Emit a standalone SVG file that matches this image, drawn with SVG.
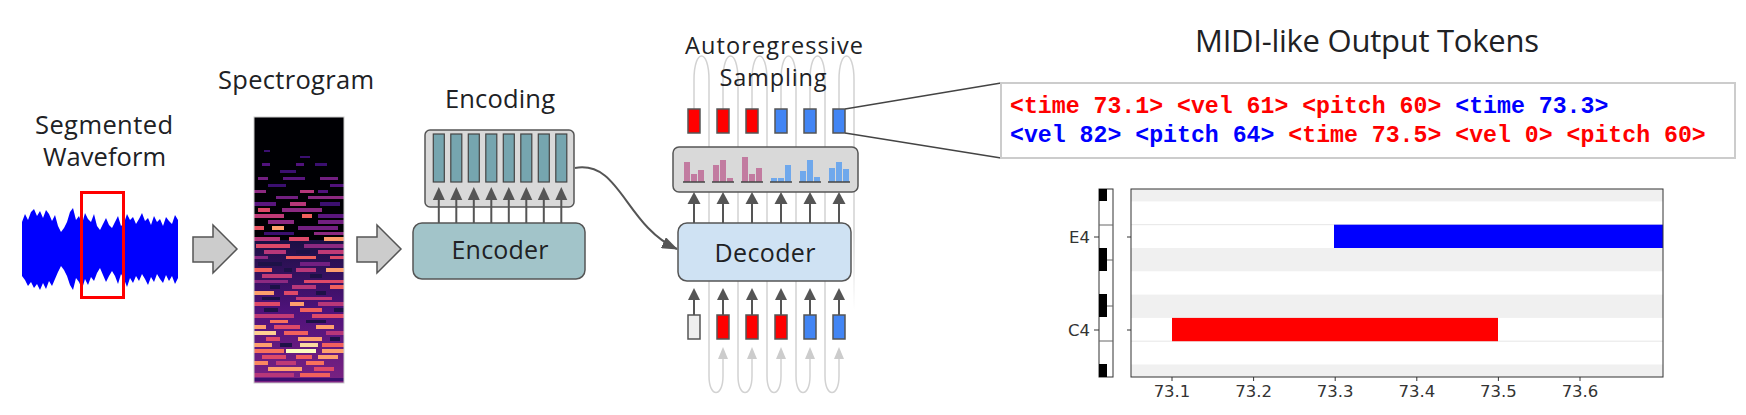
<svg xmlns="http://www.w3.org/2000/svg" width="1746" height="415" viewBox="0 0 1746 415">
<style>
.lbl{font-family:"Open Sans","Noto Sans",sans-serif;fill:#202124;text-anchor:middle}
.tok{stroke:#555;stroke-width:1.5}
.red{fill:#ff0000}
.blu{fill:#4285f4}
.darr{fill:#555;stroke:none}
.dline{stroke:#555;stroke-width:2;fill:none}
.loop{stroke:#d2d2d2;stroke-width:1.5;fill:none}
.garr{fill:#cccccc}
.pk{fill:#c27ba0}
.bl{fill:#6fa8ec}
.base{stroke:#444;stroke-width:1.5}
.mono{font-family:"Liberation Mono","DejaVu Sans Mono",monospace;font-weight:bold;font-size:23.2px}
.tick{font-family:"DejaVu Sans",sans-serif;font-size:16.5px;fill:#333}
.ax{stroke:#333;stroke-width:1}
</style>
<defs>
<marker id="ah" markerUnits="userSpaceOnUse" markerWidth="16" markerHeight="12" viewBox="0 0 16 12" refX="15" refY="6" orient="auto">
<path d="M0,0 L16,6 L0,12 z" fill="#555"/>
</marker>
<linearGradient id="fade" gradientUnits="userSpaceOnUse" x1="0" y1="230" x2="0" y2="310">
<stop offset="0" stop-color="#d2d2d2" stop-opacity="1"/>
<stop offset="1" stop-color="#d2d2d2" stop-opacity="0"/>
</linearGradient>
<linearGradient id="specGrad" x1="0" y1="0" x2="0" y2="1">
<stop offset="0" stop-color="#1c1044"/>
<stop offset="0.5" stop-color="#4f127b"/>
<stop offset="1" stop-color="#7a2282"/>
</linearGradient>
</defs>
<rect width="1746" height="415" fill="#ffffff"/>

<g id="connectors">
<path class="loop" d="M694,109 L694,80 C694,48 709,48 709,80 L709,376 C709,398 723,398 723,376 L723,359"/>
<path class="loop" d="M723,109 L723,80 C723,48 738,48 738,80 L738,376 C738,398 752,398 752,376 L752,359"/>
<path class="loop" d="M752,109 L752,80 C752,48 767,48 767,80 L767,376 C767,398 781,398 781,376 L781,359"/>
<path class="loop" d="M781,109 L781,80 C781,48 796,48 796,80 L796,376 C796,398 810,398 810,376 L810,359"/>
<path class="loop" d="M810,109 L810,80 C810,48 825,48 825,80 L825,376 C825,398 839,398 839,376 L839,359"/>
<path d="M839,109 L839,80 C839,48 854,48 854,80 L854,312" fill="none" stroke="url(#fade)" stroke-width="1.5"/>
<polygon class="garr" points="718,359 728,359 723,347"/>
<polygon class="garr" points="747,359 757,359 752,347"/>
<polygon class="garr" points="776,359 786,359 781,347"/>
<polygon class="garr" points="805,359 815,359 810,347"/>
<polygon class="garr" points="834,359 844,359 839,347"/>
<path class="dline" d="M575,168 C620,160 625,225 677,249" marker-end="url(#ah)"/>
<line x1="845" y1="109" x2="1001" y2="83" stroke="#444" stroke-width="1.5"/>
<line x1="845" y1="133" x2="1001" y2="158" stroke="#444" stroke-width="1.5"/>
</g>

<g id="waveform">
<text class="lbl" x="104" y="134" font-size="25.5" textLength="138">Segmented</text>
<text class="lbl" x="104.5" y="166" font-size="25.5" textLength="123">Waveform</text>
<polygon fill="#0000ff" points="22,222 25,214 28,220 31,212 34,209 37,216 40,211 43,218 46,210 49,214 52,221 55,215 58,226 61,232 64,228 67,222 70,212 73,208 76,220 79,216 82,224 85,213 88,219 91,222 94,214 97,226 100,230 103,224 106,218 109,225 112,228 115,222 118,216 121,226 124,223 127,214 130,220 133,217 136,224 139,219 142,213 145,221 148,218 151,225 154,216 157,222 160,219 163,226 166,217 169,221 172,224 175,215 178,220 178,278 175,284 172,276 169,281 166,275 163,283 160,279 157,274 154,282 151,277 148,285 145,279 142,274 139,281 136,276 133,283 130,278 127,287 124,279 121,274 118,284 115,276 112,271 109,276 106,282 103,275 100,268 97,273 94,281 91,277 88,285 85,279 82,289 79,282 76,278 73,290 70,285 67,276 64,270 61,266 58,272 55,279 52,286 49,281 46,289 43,283 40,290 37,284 34,288 31,282 28,286 25,280 22,276"/>
<rect x="81.5" y="192.5" width="42" height="105" fill="none" stroke="#ff0000" stroke-width="3"/>
</g>

<g id="arrow1">
<path d="M193,237 L213,237 L213,225 L237,249 L213,273 L213,262 L193,262 Z" fill="#cccccc" stroke="#555" stroke-width="1.5"/>
</g>

<g id="spectrogram">
<text class="lbl" x="296" y="89" font-size="25.5" textLength="156">Spectrogram</text>
<rect x="254" y="117" width="90" height="266" fill="#000004"/>
<rect x="254" y="240" width="90" height="143" fill="url(#specGrad)"/>
<g>
<rect x="264" y="150" width="6" height="2" fill="#3b0f70"/>
<rect x="300" y="156" width="10" height="2" fill="#3b0f70"/>
<rect x="262" y="163" width="8" height="3" fill="#51127c"/><rect x="296" y="163" width="8" height="3" fill="#51127c"/><rect x="315" y="163" width="12" height="3" fill="#3b0f70"/>
<rect x="280" y="170" width="16" height="3" fill="#3b0f70"/>
<rect x="258" y="177" width="10" height="3" fill="#721f81"/><rect x="283" y="177" width="22" height="3" fill="#5a167e"/><rect x="320" y="177" width="18" height="3" fill="#721f81"/>
<rect x="268" y="184" width="18" height="3" fill="#3b0f70"/><rect x="330" y="184" width="14" height="3" fill="#51127c"/>
<rect x="254" y="190" width="12" height="3" fill="#8c2981"/><rect x="300" y="190" width="14" height="3" fill="#b5367a"/><rect x="318" y="190" width="10" height="3" fill="#51127c"/>
<rect x="276" y="196" width="22" height="3" fill="#721f81"/><rect x="308" y="196" width="36" height="3" fill="#8c2981"/>
<rect x="254" y="202" width="22" height="4" fill="#5a167e"/><rect x="290" y="202" width="16" height="4" fill="#b73779"/><rect x="320" y="202" width="20" height="4" fill="#3b0f70"/>
<rect x="258" y="208" width="12" height="4" fill="#de4968"/><rect x="282" y="208" width="40" height="4" fill="#8c2981"/>
<rect x="254" y="214" width="30" height="4" fill="#c03a76"/><rect x="302" y="214" width="10" height="4" fill="#f1605d"/><rect x="318" y="214" width="26" height="4" fill="#5a167e"/>
<rect x="268" y="220" width="26" height="4" fill="#8c2981"/><rect x="318" y="220" width="26" height="4" fill="#721f81"/>
<rect x="254" y="226" width="10" height="4" fill="#e85362"/><rect x="272" y="226" width="12" height="4" fill="#fe9f6d"/><rect x="298" y="226" width="40" height="4" fill="#721f81"/>
<rect x="264" y="232" width="30" height="3" fill="#3b0f70"/><rect x="314" y="232" width="30" height="3" fill="#8c2981"/>
<rect x="254" y="237" width="26" height="4" fill="#b73779"/><rect x="289" y="237" width="20" height="4" fill="#de4968"/><rect x="324" y="237" width="20" height="4" fill="#fd9a6a"/>
<rect x="256" y="244" width="34" height="4" fill="#de4968"/><rect x="304" y="244" width="40" height="4" fill="#8c2981"/>
<rect x="264" y="250" width="22" height="4" fill="#b73779"/><rect x="296" y="250" width="14" height="4" fill="#1d1147"/><rect x="318" y="250" width="26" height="4" fill="#c03a76"/>
<rect x="254" y="256" width="14" height="3" fill="#8c2981"/><rect x="286" y="256" width="30" height="3" fill="#f1605d"/><rect x="330" y="256" width="14" height="3" fill="#de4968"/>
<rect x="258" y="262" width="24" height="4" fill="#1d1147"/><rect x="300" y="262" width="30" height="4" fill="#721f81"/>
<rect x="254" y="268" width="18" height="4" fill="#f1605d"/><rect x="284" y="268" width="8" height="4" fill="#1d1147"/><rect x="296" y="268" width="20" height="4" fill="#b73779"/><rect x="326" y="268" width="18" height="4" fill="#fe9f6d"/>
<rect x="262" y="274" width="30" height="4" fill="#c03a76"/><rect x="310" y="274" width="12" height="4" fill="#1d1147"/>
<rect x="254" y="280" width="34" height="3" fill="#8c2981"/><rect x="304" y="280" width="40" height="3" fill="#de4968"/>
<rect x="270" y="285" width="10" height="4" fill="#1d1147"/><rect x="292" y="285" width="24" height="4" fill="#b73779"/><rect x="330" y="285" width="14" height="4" fill="#f1605d"/>
<rect x="254" y="291" width="20" height="4" fill="#fe9f6d"/><rect x="284" y="291" width="14" height="4" fill="#de4968"/><rect x="316" y="291" width="10" height="4" fill="#1d1147"/>
<rect x="262" y="297" width="18" height="3" fill="#1d1147"/><rect x="296" y="297" width="36" height="3" fill="#c03a76"/>
<rect x="254" y="302" width="26" height="4" fill="#de4968"/><rect x="290" y="302" width="14" height="4" fill="#fe9f6d"/><rect x="318" y="302" width="26" height="4" fill="#b73779"/>
<rect x="264" y="308" width="14" height="4" fill="#1d1147"/><rect x="300" y="308" width="22" height="4" fill="#f1605d"/><rect x="334" y="308" width="10" height="4" fill="#1d1147"/>
<rect x="254" y="314" width="40" height="4" fill="#c03a76"/><rect x="312" y="314" width="32" height="4" fill="#de4968"/>
<rect x="270" y="320" width="18" height="3" fill="#f7705c"/><rect x="306" y="320" width="20" height="3" fill="#1d1147"/>
<rect x="254" y="325" width="12" height="4" fill="#fe9f6d"/><rect x="274" y="325" width="26" height="4" fill="#de4968"/><rect x="316" y="325" width="18" height="4" fill="#fe9f6d"/>
<rect x="254" y="331" width="22" height="4" fill="#fecf92"/><rect x="284" y="331" width="24" height="4" fill="#f1605d"/><rect x="326" y="331" width="18" height="4" fill="#b73779"/>
<rect x="266" y="337" width="14" height="4" fill="#de4968"/><rect x="298" y="337" width="24" height="4" fill="#fe9f6d"/><rect x="330" y="337" width="10" height="4" fill="#1d1147"/>
<rect x="254" y="343" width="18" height="4" fill="#fe9f6d"/><rect x="280" y="343" width="12" height="4" fill="#1d1147"/><rect x="300" y="343" width="18" height="4" fill="#fcd9a0"/><rect x="322" y="343" width="22" height="4" fill="#f1605d"/>
<rect x="254" y="349" width="30" height="4" fill="#f7705c"/><rect x="286" y="349" width="30" height="4" fill="#fcfdbf"/><rect x="322" y="349" width="22" height="4" fill="#fe9f6d"/>
<rect x="262" y="355" width="24" height="4" fill="#de4968"/><rect x="296" y="355" width="16" height="4" fill="#f1605d"/><rect x="318" y="355" width="20" height="4" fill="#fe9f6d"/>
<rect x="254" y="361" width="14" height="4" fill="#fb8861"/><rect x="276" y="361" width="20" height="4" fill="#c03a76"/><rect x="306" y="361" width="18" height="4" fill="#f7705c"/>
<rect x="268" y="367" width="34" height="4" fill="#fe9f6d"/><rect x="314" y="367" width="20" height="4" fill="#de4968"/>
<rect x="254" y="373" width="40" height="4" fill="#b73779"/><rect x="300" y="373" width="30" height="4" fill="#f1605d"/>
<rect x="254" y="378" width="90" height="3" fill="#3b0f70"/>
</g>
<rect x="254" y="117" width="90" height="266" fill="none" stroke="#cccccc" stroke-width="1"/>
</g>

<g id="arrow2">
<path d="M357,237 L377,237 L377,225 L401,249 L377,273 L377,262 L357,262 Z" fill="#cccccc" stroke="#555" stroke-width="1.5"/>
</g>

<g id="encoding">
<text class="lbl" x="500" y="108" font-size="25.5" textLength="110">Encoding</text>
<rect x="425" y="130" width="149" height="77" rx="5" fill="#d9d9d9" stroke="#555" stroke-width="1.5"/>
<g fill="#76a5af" stroke="#444" stroke-width="1.2">
<rect x="433.3" y="134" width="11" height="48"/><rect x="450.8" y="134" width="11" height="48"/><rect x="468.3" y="134" width="11" height="48"/><rect x="485.8" y="134" width="11" height="48"/>
<rect x="503.3" y="134" width="11" height="48"/><rect x="520.8" y="134" width="11" height="48"/><rect x="538.3" y="134" width="11" height="48"/><rect x="555.8" y="134" width="11" height="48"/>
</g>
<g stroke="#555" stroke-width="2">
<line x1="438.8" y1="223" x2="438.8" y2="199"/><line x1="456.3" y1="223" x2="456.3" y2="199"/><line x1="473.8" y1="223" x2="473.8" y2="199"/><line x1="491.3" y1="223" x2="491.3" y2="199"/>
<line x1="508.8" y1="223" x2="508.8" y2="199"/><line x1="526.3" y1="223" x2="526.3" y2="199"/><line x1="543.8" y1="223" x2="543.8" y2="199"/><line x1="561.3" y1="223" x2="561.3" y2="199"/>
</g>
<g class="darr">
<polygon points="432.8,200 444.8,200 438.8,187"/><polygon points="450.3,200 462.3,200 456.3,187"/><polygon points="467.8,200 479.8,200 473.8,187"/><polygon points="485.3,200 497.3,200 491.3,187"/>
<polygon points="502.8,200 514.8,200 508.8,187"/><polygon points="520.3,200 532.3,200 526.3,187"/><polygon points="537.8,200 549.8,200 543.8,187"/><polygon points="555.3,200 567.3,200 561.3,187"/>
</g>
</g>

<g id="encoder">
<rect x="413" y="223" width="172" height="56" rx="9" fill="#a2c4c9" stroke="#555" stroke-width="1.5"/>
<text class="lbl" x="500" y="259" font-size="25" textLength="97">Encoder</text>
</g>

<g id="sampling">
<text class="lbl" x="774" y="54" font-size="23.5" textLength="178">Autoregressive</text>
<text class="lbl" x="773" y="86" font-size="23.5" textLength="107">Sampling</text>
<rect x="673" y="147" width="185" height="45" rx="6" fill="#d9d9d9" stroke="#555" stroke-width="1.5"/>
<g class="pk">
<rect x="684" y="162" width="6" height="20"/><rect x="691" y="174" width="6" height="8"/><rect x="698" y="170" width="6" height="12"/>
<rect x="713" y="165" width="6" height="17"/><rect x="720" y="160" width="6" height="22"/><rect x="727" y="178" width="6" height="4"/>
<rect x="742" y="157" width="6" height="25"/><rect x="749" y="174" width="6" height="8"/><rect x="756" y="168" width="6" height="14"/>
</g>
<g class="bl">
<rect x="771" y="178" width="6" height="4"/><rect x="778" y="178" width="6" height="4"/><rect x="785" y="165" width="6" height="17"/>
<rect x="800" y="171" width="6" height="11"/><rect x="807" y="160" width="6" height="22"/><rect x="814" y="177" width="6" height="5"/>
<rect x="829" y="168" width="6" height="14"/><rect x="836" y="162" width="6" height="20"/><rect x="843" y="169" width="6" height="13"/>
</g>
<g class="base">
<line x1="683" y1="182" x2="705" y2="182"/><line x1="712" y1="182" x2="734" y2="182"/><line x1="741" y1="182" x2="763" y2="182"/>
<line x1="770" y1="182" x2="792" y2="182"/><line x1="799" y1="182" x2="821" y2="182"/><line x1="828" y1="182" x2="850" y2="182"/>
</g>
</g>

<g id="output-tokens">
<rect class="tok red" x="688" y="109" width="12" height="24"/>
<rect class="tok red" x="717" y="109" width="12" height="24"/>
<rect class="tok red" x="746" y="109" width="12" height="24"/>
<rect class="tok blu" x="775" y="109" width="12" height="24"/>
<rect class="tok blu" x="804" y="109" width="12" height="24"/>
<rect class="tok blu" x="833" y="109" width="12" height="24"/>
</g>

<g id="decoder">
<g stroke="#555" stroke-width="2">
<line x1="694" y1="223" x2="694" y2="203"/><line x1="723" y1="223" x2="723" y2="203"/><line x1="752" y1="223" x2="752" y2="203"/>
<line x1="781" y1="223" x2="781" y2="203"/><line x1="810" y1="223" x2="810" y2="203"/><line x1="839" y1="223" x2="839" y2="203"/>
</g>
<g class="darr">
<polygon points="687.5,204 700.5,204 694,192"/><polygon points="716.5,204 729.5,204 723,192"/><polygon points="745.5,204 758.5,204 752,192"/>
<polygon points="774.5,204 787.5,204 781,192"/><polygon points="803.5,204 816.5,204 810,192"/><polygon points="832.5,204 845.5,204 839,192"/>
</g>
<rect x="678" y="223" width="173" height="58" rx="9" fill="#cfe2f3" stroke="#555" stroke-width="1.5"/>
<text class="lbl" x="765" y="262" font-size="25" textLength="101">Decoder</text>
</g>

<g id="input-tokens">
<g stroke="#555" stroke-width="2">
<line x1="694" y1="315" x2="694" y2="299"/><line x1="723" y1="315" x2="723" y2="299"/><line x1="752" y1="315" x2="752" y2="299"/>
<line x1="781" y1="315" x2="781" y2="299"/><line x1="810" y1="315" x2="810" y2="299"/><line x1="839" y1="315" x2="839" y2="299"/>
</g>
<g class="darr">
<polygon points="688,300 700,300 694,288"/><polygon points="717,300 729,300 723,288"/><polygon points="746,300 758,300 752,288"/>
<polygon points="775,300 787,300 781,288"/><polygon points="804,300 816,300 810,288"/><polygon points="833,300 845,300 839,288"/>
</g>
<rect class="tok" x="688" y="315" width="12" height="24" fill="#efefef"/>
<rect class="tok red" x="717" y="315" width="12" height="24"/>
<rect class="tok red" x="746" y="315" width="12" height="24"/>
<rect class="tok red" x="775" y="315" width="12" height="24"/>
<rect class="tok blu" x="804" y="315" width="12" height="24"/>
<rect class="tok blu" x="833" y="315" width="12" height="24"/>
</g>

<g id="token-box">
<text class="lbl" x="1367" y="52" font-size="31" textLength="344">MIDI-like Output Tokens</text>
<rect x="1001" y="83" width="734" height="75" fill="#ffffff" stroke="#cccccc" stroke-width="2"/>
<text class="mono" x="1010" y="113" xml:space="preserve"><tspan fill="#ff0000">&lt;time 73.1&gt; &lt;vel 61&gt; &lt;pitch 60&gt; </tspan><tspan fill="#0000ff">&lt;time 73.3&gt;</tspan></text>
<text class="mono" x="1010" y="142" xml:space="preserve"><tspan fill="#0000ff">&lt;vel 82&gt; &lt;pitch 64&gt; </tspan><tspan fill="#ff0000">&lt;time 73.5&gt; &lt;vel 0&gt; &lt;pitch 60&gt;</tspan></text>
</g>

<g id="pianoroll">
<rect x="1099" y="189" width="14" height="188" fill="#ffffff" stroke="#333" stroke-width="1"/>
<g fill="#000000">
<rect x="1099" y="189" width="8" height="12"/><rect x="1099" y="248" width="8" height="23"/><rect x="1099" y="294" width="8" height="23"/><rect x="1099" y="364" width="8" height="13"/>
</g>
<g stroke="#666" stroke-width="1">
<line x1="1099" y1="225" x2="1113" y2="225"/><line x1="1107" y1="260" x2="1113" y2="260"/><line x1="1107" y1="306" x2="1113" y2="306"/><line x1="1099" y1="341" x2="1113" y2="341"/>
</g>
<rect x="1131" y="189" width="532" height="188" fill="#ffffff"/>
<g fill="#f0f0f0">
<rect x="1131" y="189" width="532" height="12.4"/>
<rect x="1131" y="248" width="532" height="23.3"/>
<rect x="1131" y="294.6" width="532" height="23.3"/>
<rect x="1131" y="364.5" width="532" height="12.5"/>
</g>
<g stroke="#e6e6e6" stroke-width="1">
<line x1="1131" y1="224.7" x2="1663" y2="224.7"/><line x1="1131" y1="341.2" x2="1663" y2="341.2"/>
</g>
<rect x="1334" y="224.7" width="329" height="23.3" fill="#0000ff"/>
<rect x="1172" y="317.9" width="326" height="23.3" fill="#ff0000"/>
<rect x="1131" y="189" width="532" height="188" fill="none" stroke="#333" stroke-width="1"/>
<g class="ax">
<line x1="1094" y1="237" x2="1099" y2="237"/><line x1="1094" y1="330" x2="1099" y2="330"/>
<line x1="1127" y1="237" x2="1131" y2="237"/><line x1="1127" y1="330" x2="1131" y2="330"/>
<line x1="1172" y1="377" x2="1172" y2="381"/><line x1="1253.6" y1="377" x2="1253.6" y2="381"/><line x1="1335.2" y1="377" x2="1335.2" y2="381"/>
<line x1="1416.8" y1="377" x2="1416.8" y2="381"/><line x1="1498.4" y1="377" x2="1498.4" y2="381"/><line x1="1580" y1="377" x2="1580" y2="381"/>
</g>
<text class="tick" x="1090" y="243" text-anchor="end">E4</text>
<text class="tick" x="1090" y="336" text-anchor="end">C4</text>
<g text-anchor="middle">
<text class="tick" x="1172" y="397">73.1</text>
<text class="tick" x="1253.6" y="397">73.2</text>
<text class="tick" x="1335.2" y="397">73.3</text>
<text class="tick" x="1416.8" y="397">73.4</text>
<text class="tick" x="1498.4" y="397">73.5</text>
<text class="tick" x="1580" y="397">73.6</text>
</g>
</g>
</svg>
